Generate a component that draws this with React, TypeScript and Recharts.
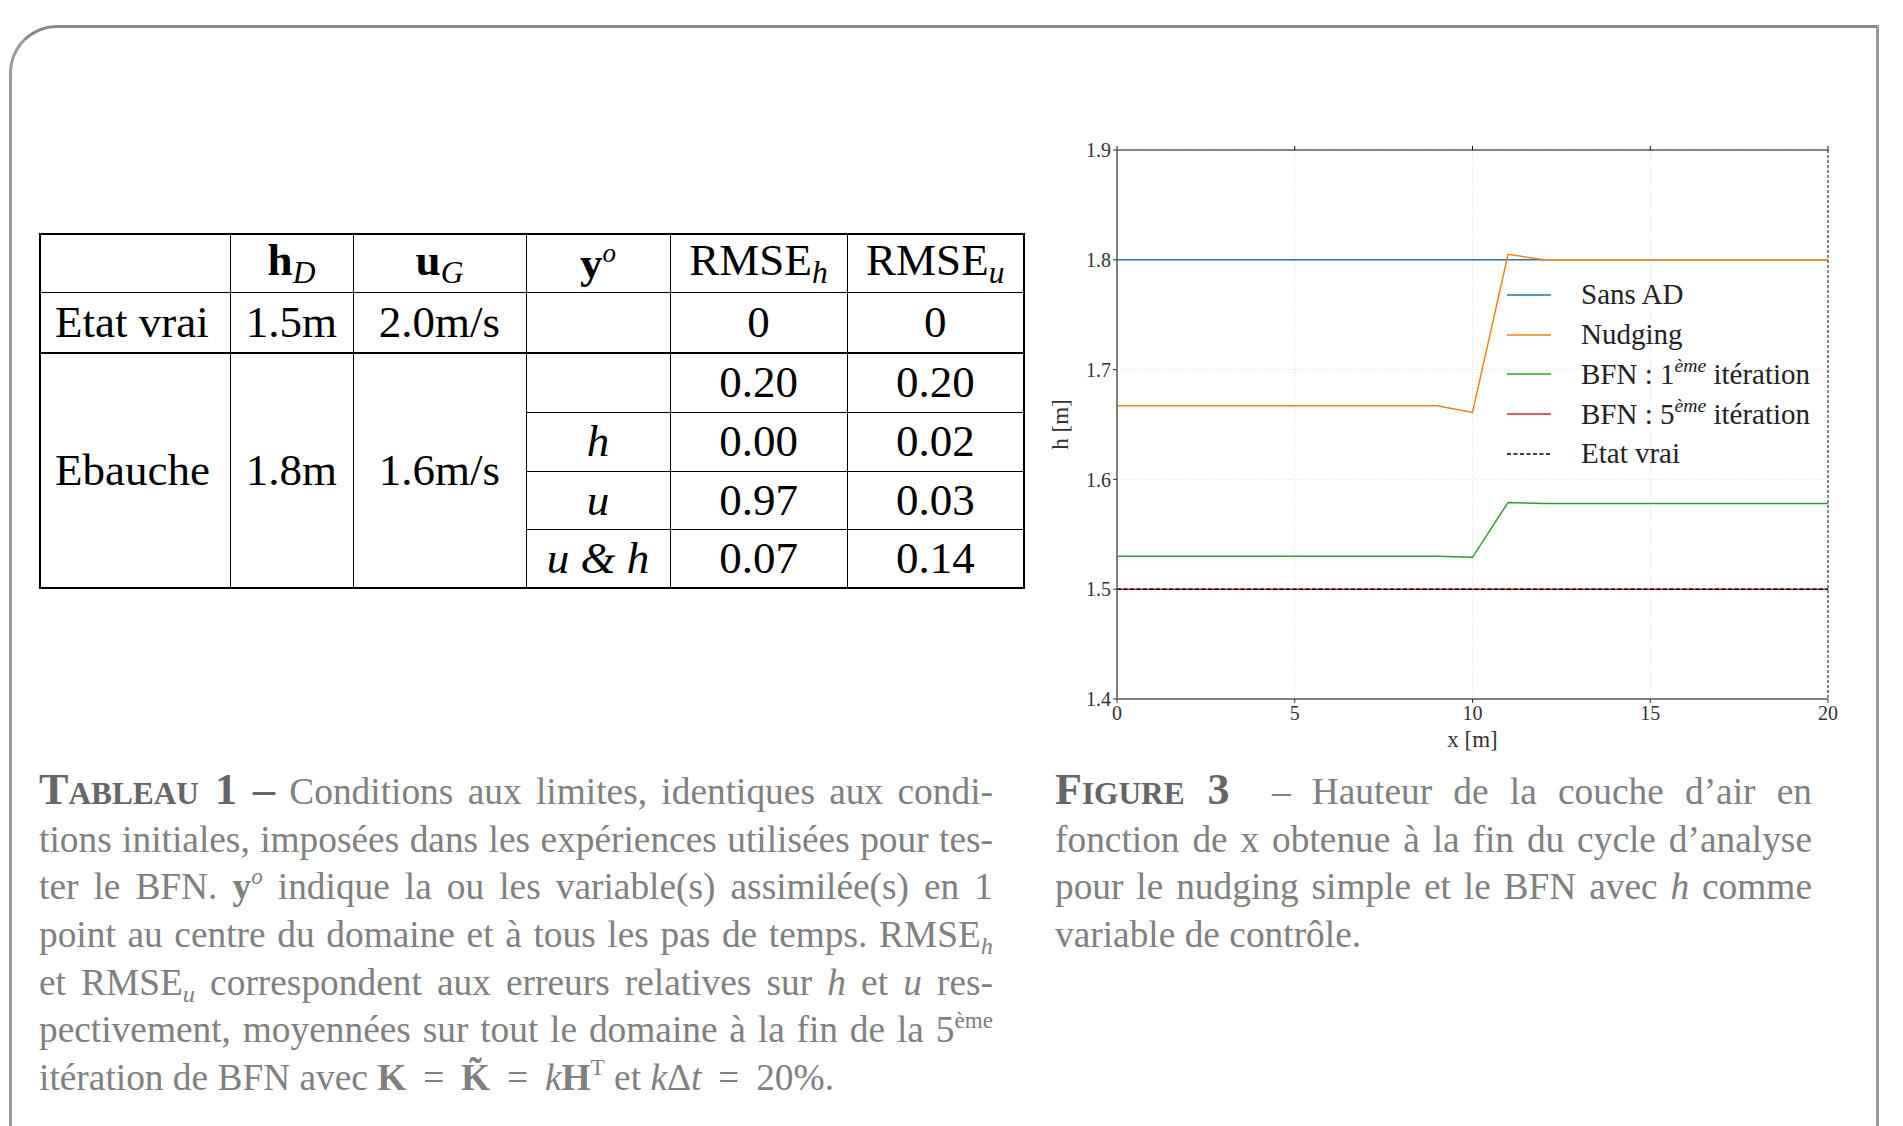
import React from 'react';
import { LineChart, Line, XAxis, YAxis, CartesianGrid, Legend } from 'recharts';

// positions le long du domaine [m]
const xPos = [0, 1, 2, 3, 4, 5, 6, 7, 8, 9, 10, 11, 12, 13, 14, 15, 16, 17, 18, 19, 20];

// hauteur h [m] pour chaque courbe
const sansAD = [1.8, 1.8, 1.8, 1.8, 1.8, 1.8, 1.8, 1.8, 1.8, 1.8, 1.8, 1.8, 1.8, 1.8, 1.8, 1.8, 1.8, 1.8, 1.8, 1.8, 1.8];
const nudging = [1.667, 1.667, 1.667, 1.667, 1.667, 1.667, 1.667, 1.667, 1.667, 1.667, 1.661, 1.805, 1.8, 1.8, 1.8, 1.8, 1.8, 1.8, 1.8, 1.8, 1.8];
const bfn1 = [1.530, 1.530, 1.530, 1.530, 1.530, 1.530, 1.530, 1.530, 1.530, 1.530, 1.529, 1.579, 1.578, 1.578, 1.578, 1.578, 1.578, 1.578, 1.578, 1.578, 1.578];
const bfn5 = [1.5, 1.5, 1.5, 1.5, 1.5, 1.5, 1.5, 1.5, 1.5, 1.5, 1.5, 1.5, 1.5, 1.5, 1.5, 1.5, 1.5, 1.5, 1.5, 1.5, 1.5];
const etatVrai = [1.5, 1.5, 1.5, 1.5, 1.5, 1.5, 1.5, 1.5, 1.5, 1.5, 1.5, 1.5, 1.5, 1.5, 1.5, 1.5, 1.5, 1.5, 1.5, 1.5, 1.5];

const xTicks = [0, 5, 10, 15, 20];
const yTicks = [1.4, 1.5, 1.6, 1.7, 1.8, 1.9];

// tableau 1
const etatVraiRow = ['Etat vrai', '1.5m', '2.0m/s', '', '0', '0'];
const ebaucheRow = ['Ebauche', '1.8m', '1.6m/s'];
const assimilees = ['', 'h', 'u', 'u & h'];
const rmseH = ['0.20', '0.00', '0.97', '0.07'];
const rmseU = ['0.20', '0.02', '0.03', '0.14'];

const series = [
  { key: 'sansAD', label: 'Sans AD', sup: '', rest: '', color: '#1f77b4', dash: undefined as string | undefined },
  { key: 'nudging', label: 'Nudging', sup: '', rest: '', color: '#ff7f0e', dash: undefined },
  { key: 'bfn1', label: 'BFN : 1', sup: 'ème', rest: ' itération', color: '#2ca02c', dash: undefined },
  { key: 'bfn5', label: 'BFN : 5', sup: 'ème', rest: ' itération', color: '#d62728', dash: undefined },
  { key: 'etatVrai', label: 'Etat vrai', sup: '', rest: '', color: '#000000', dash: '4 2.5' },
];

const data = xPos.map((x, i) => ({
  x,
  sansAD: sansAD[i],
  nudging: nudging[i],
  bfn1: bfn1[i],
  bfn5: bfn5[i],
  etatVrai: etatVrai[i],
}));

const serif = '"Liberation Serif", "Times New Roman", serif';

function LegendBox() {
  return (
    <div style={{ fontFamily: serif, fontSize: 29, color: '#222' }}>
      {series.map((s) => (
        <div key={s.key} style={{ display: 'flex', alignItems: 'center', height: 39.75 }}>
          <svg width={44} height={6} style={{ marginRight: 30 }}>
            <line x1={0} y1={3} x2={44} y2={3} stroke={s.color} strokeWidth={1.5} strokeDasharray={s.dash} />
          </svg>
          <span style={{ whiteSpace: 'nowrap' }}>
            {s.label}
            {s.sup && (
              <span style={{ fontSize: '0.68em', fontStyle: 'italic', position: 'relative', top: '-0.6em', lineHeight: 0 }}>{s.sup}</span>
            )}
            {s.rest}
          </span>
        </div>
      ))}
    </div>
  );
}

function HauteurChart() {
  return (
    <LineChart
      width={860}
      height={680}
      data={data}
      margin={{ top: 42, right: 24, left: 67, bottom: 51 }}
      style={{ fontFamily: serif }}
    >
      <CartesianGrid stroke="#dddddd" strokeDasharray="1 2" />
      <XAxis
        dataKey="x"
        type="number"
        domain={[0, 20]}
        ticks={xTicks}
        height={30}
        tickSize={4}
        tickMargin={3}
        tick={{ fontSize: 20, fill: '#333' }}
        axisLine={{ stroke: '#555', strokeWidth: 1.5 }}
        tickLine={{ stroke: '#333' }}
        label={{ value: 'x [m]', position: 'bottom', offset: 2, style: { fontSize: 23, fill: '#333' } }}
      />
      <XAxis
        xAxisId="top"
        orientation="top"
        dataKey="x"
        type="number"
        domain={[0, 20]}
        ticks={xTicks}
        height={8}
        tickSize={4}
        tickFormatter={() => ''}
        axisLine={{ stroke: '#111' }}
        tickLine={{ stroke: '#111' }}
      />
      <YAxis
        type="number"
        domain={[1.4, 1.9]}
        ticks={yTicks}
        width={50}
        tickSize={4}
        tickMargin={2}
        tick={{ fontSize: 20, fill: '#333' }}
        axisLine={{ stroke: '#555', strokeWidth: 1.5 }}
        tickLine={{ stroke: '#333' }}
        label={{ value: 'h [m]', angle: -90, position: 'left', offset: 7, style: { fontSize: 23, fill: '#333', textAnchor: 'middle' } }}
      />
      <YAxis
        yAxisId="right"
        orientation="right"
        type="number"
        domain={[1.4, 1.9]}
        ticks={yTicks}
        width={8}
        tickSize={4}
        tickFormatter={() => ''}
        axisLine={{ stroke: '#111', strokeDasharray: '3 2' }}
        tickLine={{ stroke: '#111' }}
      />
      {series.map((s) => (
        <Line
          key={s.key}
          type="linear"
          dataKey={s.key}
          name={s.label}
          stroke={s.color}
          strokeWidth={1.5}
          strokeDasharray={s.dash}
          dot={false}
          activeDot={false}
          isAnimationActive={false}
        />
      ))}
      <Legend
        layout="vertical"
        align="center"
        verticalAlign="middle"
        content={() => <LegendBox />}
        wrapperStyle={{ left: 507, top: 175, width: 340, height: 200 }}
      />
    </LineChart>
  );
}

const cell: React.CSSProperties = {
  border: '1.5px solid #000',
  textAlign: 'center',
  padding: 0,
  fontSize: 45,
  lineHeight: 1,
  color: '#000',
  fontFamily: serif,
};
const sub: React.CSSProperties = { fontSize: '0.7em', fontStyle: 'italic', verticalAlign: '-0.25em' };

function Tableau() {
  const topThick: React.CSSProperties = { ...cell, borderTop: '2.5px solid #000' };
  return (
    <table
      style={{
        position: 'absolute',
        left: 39,
        top: 233,
        borderCollapse: 'collapse',
        tableLayout: 'fixed',
        width: 984,
        border: '2px solid #000',
      }}
    >
      <colgroup>
        {[190, 123, 173, 144, 177, 177].map((w, i) => (
          <col key={i} style={{ width: w }} />
        ))}
      </colgroup>
      <tbody>
        <tr style={{ height: 58 }}>
          <td style={cell}></td>
          <td style={cell}><b>h</b><span style={sub}>D</span></td>
          <td style={cell}><b>u</b><span style={sub}>G</span></td>
          <td style={cell}><b>y</b><sup style={{ fontSize: '0.6em', fontStyle: 'italic' }}>o</sup></td>
          <td style={cell}>RMSE<span style={sub}>h</span></td>
          <td style={cell}>RMSE<span style={sub}>u</span></td>
        </tr>
        <tr style={{ height: 61 }}>
          {etatVraiRow.map((v, i) => (
            <td key={i} style={i === 0 ? { ...cell, textAlign: 'left', paddingLeft: 14 } : cell}>{v}</td>
          ))}
        </tr>
        {assimilees.map((a, r) => (
          <tr key={r} style={{ height: r === 2 ? 58 : 59 }}>
            {r === 0 &&
              ebaucheRow.map((v, i) => (
                <td key={i} rowSpan={4} style={i === 0 ? { ...topThick, textAlign: 'left', paddingLeft: 14 } : topThick}>{v}</td>
              ))}
            <td style={r === 0 ? topThick : { ...cell, fontStyle: 'italic' }}>{a}</td>
            <td style={r === 0 ? topThick : cell}>{rmseH[r]}</td>
            <td style={r === 0 ? topThick : cell}>{rmseU[r]}</td>
          </tr>
        ))}
      </tbody>
    </table>
  );
}

function Caption({ left, width, lines }: { left: number; width: number; lines: React.ReactNode[] }) {
  const k = 1.01;
  return (
    <div
      style={{
        position: 'absolute',
        left,
        top: 768,
        width: width / k,
        transform: `scaleX(${k})`,
        transformOrigin: 'left top',
        fontFamily: serif,
        fontSize: 37,
        color: '#808080',
      }}
    >
      {lines.map((l, i) => (
        <div
          key={i}
          style={{
            height: 47.7,
            lineHeight: '47.7px',
            whiteSpace: 'nowrap',
            textAlign: 'justify',
            textAlignLast: i === lines.length - 1 ? 'left' : 'justify',
          }}
        >
          {l}
        </div>
      ))}
    </div>
  );
}

const capHead: React.CSSProperties = { fontWeight: 'bold', fontVariant: 'small-caps', color: '#666', fontSize: '1.18em', lineHeight: 0 };
const capSub: React.CSSProperties = { fontSize: '0.65em', fontStyle: 'italic', position: 'relative', top: '0.3em', lineHeight: 0 };
const capSup: React.CSSProperties = { fontSize: '0.62em', position: 'relative', top: '-0.65em', lineHeight: 0 };
const eq = '\u2009=\u2009';

const tableauLines: React.ReactNode[] = [
  <><span style={capHead}>Tableau 1 –</span> Conditions aux limites, identiques aux condi-</>,
  <>tions initiales, imposées dans les expériences utilisées pour tes-</>,
  <>ter le BFN. <b>y</b><span style={{ ...capSup, fontStyle: 'italic' }}>o</span> indique la ou les variable(s) assimilée(s) en 1</>,
  <>point au centre du domaine et à tous les pas de temps. RMSE<span style={capSub}>h</span></>,
  <>et RMSE<span style={capSub}>u</span> correspondent aux erreurs relatives sur <i>h</i> et <i>u</i> res-</>,
  <>pectivement, moyennées sur tout le domaine à la fin de la 5<span style={capSup}>ème</span></>,
  <>itération de BFN avec <b>K</b> {eq} <b>K̃</b> {eq} <i>k</i><b>H</b><span style={capSup}>T</span> et <i>k</i>Δ<i>t</i> {eq} 20%.</>,
];

const figureLines: React.ReactNode[] = [
  <><span style={capHead}>Figure 3</span>{'\u00a0\u00a0'}– Hauteur de la couche d’air en</>,
  <>fonction de x obtenue à la fin du cycle d’analyse</>,
  <>pour le nudging simple et le BFN avec <i>h</i> comme</>,
  <>variable de contrôle.</>,
];

export default function App() {
  return (
    <div
      style={{
        position: 'absolute',
        left: 0,
        top: 0,
        width: 1903,
        height: 1126,
        overflow: 'hidden',
        background: '#fff',
      }}
    >
      <div
        style={{
          position: 'absolute',
          left: 9,
          top: 25,
          width: 1870,
          height: 1200,
          boxSizing: 'border-box',
          borderTop: '3px solid #888',
          borderLeft: '3px solid #999',
          borderRight: '3px solid #999',
          borderTopLeftRadius: 48,
        }}
      />
      <Tableau />
      <div style={{ position: 'absolute', left: 1000, top: 100 }}>
        <HauteurChart />
      </div>
      <Caption left={39} width={954} lines={tableauLines} />
      <Caption left={1055} width={757} lines={figureLines} />
    </div>
  );
}
